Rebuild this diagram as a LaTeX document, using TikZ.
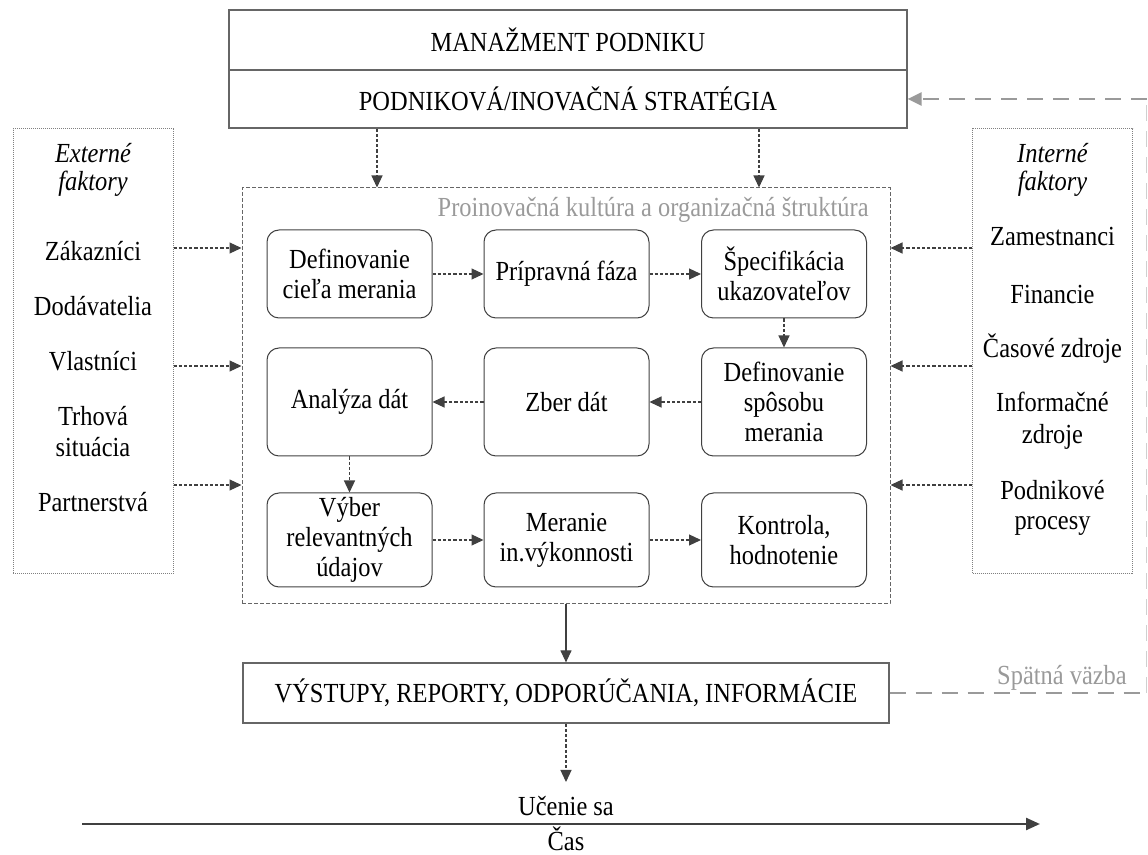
\documentclass[tikz,border=0pt]{standalone}
\usepackage{fontspec}
\setmainfont{Liberation Serif}[FakeStretch=0.885]
\usetikzlibrary{arrows.meta}
\definecolor{ink}{HTML}{404040}
\definecolor{framegray}{HTML}{666666}
\definecolor{fbgray}{HTML}{9A9A9A}
\definecolor{fbpale}{HTML}{D0D0D0}
\definecolor{dotgray}{HTML}{808080}

\begin{document}
\begin{tikzpicture}[x=0.5pt,y=-0.5pt,
  every node/.style={font=\fontsize{13.8}{15}\selectfont, inner sep=0pt, align=center, text=black},
  item/.style={anchor=base},
  headbox/.style={draw=framegray, line width=0.6pt, minimum width=339pt},
  factorbox/.style={draw=dotgray, line width=0.5pt, dash pattern=on 0.5pt off 0.5pt, minimum width=80pt, minimum height=222.5pt},
  mainbox/.style={draw=framegray, line width=0.5pt, dash pattern=on 2pt off 1pt, minimum width=324pt, minimum height=208pt},
  stepbox/.style={draw=ink, line width=0.5pt, rounded corners=6pt, minimum width=82.5pt},
  outbox/.style={draw=framegray, line width=0.6pt, minimum width=323pt, minimum height=30pt},
  tip/.style={-{Triangle[length=6pt,width=5.5pt]}},
  dotarrow/.style={draw=ink, line width=0.6pt, dash pattern=on 1.6pt off 1pt, tip, color=ink},
  solidarrow/.style={draw=ink, line width=0.6pt, tip, color=ink},
  feedback/.style={draw=fbgray, line width=1.2pt, dash pattern=on 8pt off 5pt},
  graytext/.style={text=fbgray}
]
\useasboundingbox (0,0) rectangle (1148,855);

% management block
\node[headbox, minimum height=30pt] (mgmt) at (568,40) {MANAŽMENT PODNIKU};
\node[headbox, minimum height=29pt] (strat) at (568,99) {PODNIKOVÁ/INOVAČNÁ STRATÉGIA};

% external factors
\node[factorbox] (ext) at (93,351.5) {};
\node[item] (e0) at (93,163) {\itshape Externé};
\node[item] (e1) at (93,191) {\itshape faktory};
\node[item] (e2) at (93,261) {Zákazníci};
\node[item] (e3) at (93,316) {Dodávatelia};
\node[item] (e4) at (93,371) {Vlastníci};
\node[item] (e5) at (93,426) {Trhová};
\node[item] (e6) at (93,457) {situácia};
\node[item] (e7) at (93,512) {Partnerstvá};

% internal factors
\node[factorbox] (int) at (1052.5,351.5) {};
\node[item] (i0) at (1052.5,163) {\itshape Interné};
\node[item] (i1) at (1052.5,191) {\itshape faktory};
\node[item] (i2) at (1052.5,246) {Zamestnanci};
\node[item] (i3) at (1052.5,304) {Financie};
\node[item] (i4) at (1052.5,358) {Časové zdroje};
\node[item] (i5) at (1052.5,412) {Informačné};
\node[item] (i6) at (1052.5,444) {zdroje};
\node[item] (i7) at (1052.5,500) {Podnikové};
\node[item] (i8) at (1052.5,530) {procesy};

% culture and structure frame
\node[mainbox] (main) at (566,396) {};
\node[graytext, anchor=east] (culture) at (869,210) {Proinovačná kultúra a organizačná štruktúra};

% measurement steps
\node[stepbox, minimum height=44pt] (b11) at (349.5,274) {Definovanie\\cieľa merania};
\node[stepbox, minimum height=44pt] (b12) at (566.5,274) {Prípravná fáza};
\node[stepbox, minimum height=44pt] (b13) at (784,274) {Špecifikácia\\ukazovateľov};
\node[stepbox, minimum height=54pt] (b21) at (349.5,402) {Analýza dát};
\node[stepbox, minimum height=54pt] (b22) at (566.5,402) {Zber dát};
\node[stepbox, minimum height=54pt] (b23) at (784,402) {Definovanie\\spôsobu\\merania};
\node[stepbox, minimum height=47pt] (b31) at (349.5,540) {Výber\\relevantných\\údajov};
\node[stepbox, minimum height=47pt] (b32) at (566.5,540) {Meranie\\in.výkonnosti};
\node[stepbox, minimum height=47pt] (b33) at (784,540) {Kontrola,\\hodnotenie};

% outputs
\node[outbox] (out) at (566,693) {VÝSTUPY, REPORTY, ODPORÚČANIA, INFORMÁCIE};
\node[graytext] (fblabel) at (1062,678) {Spätná väzba};

% learning over time
\coordinate (learn) at (566,782);
\coordinate (t0) at (82,824);
\coordinate (t1) at (1040,824);
\node[anchor=base] (ucenie) at (566,816) {Učenie sa};
\node[anchor=base] (cas) at (566,851) {Čas};

% helper positions for connectors
\coordinate (s1) at (377,0);
\coordinate (s2) at (759,0);
\coordinate (r1) at (0,248);
\coordinate (r2) at (0,366);
\coordinate (r3) at (0,485);
\coordinate (fbx) at (1146.5,0);

% strategy into the frame
\draw[dotarrow] (strat.south -| s1) -- (main.north -| s1);
\draw[dotarrow] (strat.south -| s2) -- (main.north -| s2);

% factors into the frame
\foreach \r in {r1,r2,r3} {
  \draw[dotarrow] (ext.east |- \r) -- (main.west |- \r);
  \draw[dotarrow] (int.west |- \r) -- (main.east |- \r);
}

% step sequence
\draw[dotarrow] (b11) -- (b12);
\draw[dotarrow] (b12) -- (b13);
\draw[dotarrow] (b13) -- (b23);
\draw[dotarrow] (b23) -- (b22);
\draw[dotarrow] (b22) -- (b21);
\draw[dotarrow] (b21) -- (b31);
\draw[dotarrow] (b31) -- (b32);
\draw[dotarrow] (b32) -- (b33);

% results
\draw[solidarrow] (main.south) -- (out.north);
\draw[dotarrow] (out.south) -- (learn);
\draw[draw=ink, line width=1.2pt, -{Triangle[length=7pt,width=6pt]}, color=ink] (t0) -- (t1);

% feedback loop
\draw[feedback] (out.east) -- (out.east -| fbx);
\draw[feedback, draw=fbpale, line width=0.8pt] (out.east -| fbx) -- (strat.east -| fbx);
\draw[feedback, -{Triangle[length=7pt,width=6.5pt]}] (strat.east -| fbx) -- (strat.east);
\end{tikzpicture}
\end{document}
